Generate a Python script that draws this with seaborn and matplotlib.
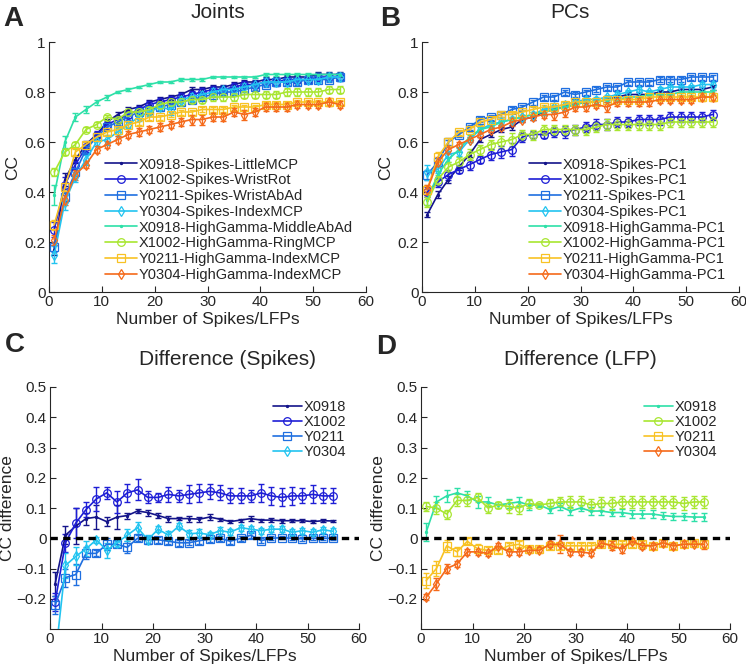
import numpy as np
import matplotlib
matplotlib.use("Agg")
import matplotlib.pyplot as plt
import seaborn as sns
from matplotlib.ticker import FuncFormatter

# ---------------- data ----------------
n_units = [1, 3, 5, 7, 9, 11, 13, 15, 17, 19, 21, 23, 25, 27, 29, 31, 33, 35, 37, 39, 41, 43, 45, 47, 49, 51, 53, 55]

joint_labels = ["X0918-Spikes-LittleMCP", "X1002-Spikes-WristRot", "Y0211-Spikes-WristAbAd",
                "Y0304-Spikes-IndexMCP", "X0918-HighGamma-MiddleAbAd", "X1002-HighGamma-RingMCP",
                "Y0211-HighGamma-IndexMCP", "Y0304-HighGamma-IndexMCP"]
pc_labels = ["X0918-Spikes-PC1", "X1002-Spikes-PC1", "Y0211-Spikes-PC1", "Y0304-Spikes-PC1",
             "X0918-HighGamma-PC1", "X1002-HighGamma-PC1", "Y0211-HighGamma-PC1", "Y0304-HighGamma-PC1"]
diff_labels = ["X0918", "X1002", "Y0211", "Y0304"]

# Panel A (Joints)
a_x0918_spk = [0.17, 0.45, 0.53, 0.59, 0.63, 0.68, 0.71, 0.73, 0.74, 0.76, 0.77, 0.78, 0.79, 0.81, 0.81, 0.82, 0.82, 0.83, 0.84, 0.84, 0.85, 0.85, 0.86, 0.86, 0.86, 0.87, 0.87, 0.87]
a_x1002_spk = [0.25, 0.43, 0.51, 0.58, 0.63, 0.67, 0.69, 0.71, 0.73, 0.75, 0.76, 0.77, 0.78, 0.79, 0.80, 0.81, 0.81, 0.82, 0.83, 0.83, 0.84, 0.84, 0.85, 0.85, 0.85, 0.86, 0.86, 0.86]
a_y0211_spk = [0.18, 0.38, 0.48, 0.57, 0.62, 0.66, 0.68, 0.70, 0.72, 0.73, 0.74, 0.75, 0.76, 0.77, 0.78, 0.79, 0.80, 0.80, 0.81, 0.82, 0.83, 0.84, 0.84, 0.84, 0.85, 0.85, 0.85, 0.86]
a_y0304_spk = [0.15, 0.36, 0.46, 0.53, 0.60, 0.61, 0.64, 0.67, 0.70, 0.72, 0.74, 0.73, 0.77, 0.78, 0.79, 0.80, 0.81, 0.81, 0.82, 0.83, 0.84, 0.84, 0.84, 0.85, 0.85, 0.85, 0.86, 0.86]
a_x0918_hg = [0.39, 0.60, 0.70, 0.73, 0.76, 0.78, 0.80, 0.81, 0.82, 0.83, 0.84, 0.84, 0.85, 0.85, 0.85, 0.86, 0.86, 0.86, 0.86, 0.86, 0.87, 0.87, 0.87, 0.87, 0.87, 0.87, 0.87, 0.87]
a_x1002_hg = [0.48, 0.56, 0.59, 0.65, 0.67, 0.70, 0.69, 0.72, 0.72, 0.73, 0.75, 0.76, 0.76, 0.77, 0.77, 0.78, 0.78, 0.78, 0.79, 0.79, 0.79, 0.79, 0.80, 0.80, 0.80, 0.80, 0.81, 0.81]
a_y0211_hg = [0.27, 0.42, 0.56, 0.59, 0.62, 0.64, 0.65, 0.67, 0.68, 0.70, 0.70, 0.71, 0.72, 0.72, 0.73, 0.73, 0.73, 0.74, 0.74, 0.74, 0.75, 0.75, 0.75, 0.76, 0.76, 0.76, 0.76, 0.76]
a_y0304_hg = [0.21, 0.37, 0.47, 0.51, 0.57, 0.59, 0.61, 0.63, 0.64, 0.65, 0.66, 0.67, 0.68, 0.69, 0.69, 0.70, 0.70, 0.72, 0.71, 0.72, 0.74, 0.74, 0.74, 0.75, 0.75, 0.75, 0.76, 0.75]

a_err_x0918_spk = [0.02, 0.025, 0.015, 0.015, 0.01, 0.01, 0.01, 0.01, 0.01, 0.01, 0.01, 0.01, 0.01, 0.01, 0.01, 0.01, 0.01, 0.01, 0.01, 0.01, 0.01, 0.01, 0.01, 0.01, 0.01, 0.01, 0.01, 0.01]
a_err_x1002_spk = [0.03, 0.03, 0.02, 0.02, 0.015, 0.015, 0.015, 0.015, 0.015, 0.015, 0.015, 0.015, 0.015, 0.015, 0.015, 0.015, 0.015, 0.015, 0.015, 0.015, 0.015, 0.015, 0.015, 0.015, 0.015, 0.015, 0.015, 0.015]
a_err_y0211_spk = [0.02, 0.02, 0.015, 0.015, 0.01, 0.01, 0.01, 0.01, 0.01, 0.01, 0.01, 0.01, 0.01, 0.01, 0.01, 0.01, 0.01, 0.01, 0.01, 0.01, 0.01, 0.01, 0.01, 0.01, 0.01, 0.01, 0.01, 0.01]
a_err_y0304_spk = [0.035, 0.03, 0.02, 0.02, 0.015, 0.02, 0.015, 0.015, 0.015, 0.015, 0.015, 0.02, 0.015, 0.015, 0.015, 0.015, 0.015, 0.015, 0.015, 0.015, 0.015, 0.015, 0.015, 0.015, 0.015, 0.015, 0.015, 0.015]
a_err_x0918_hg = [0.04, 0.025, 0.015, 0.015, 0.01, 0.01, 0.005, 0.005, 0.005, 0.005, 0.005, 0.005, 0.005, 0.005, 0.005, 0.005, 0.005, 0.005, 0.005, 0.005, 0.005, 0.005, 0.005, 0.005, 0.005, 0.005, 0.005, 0.005]
a_err_x1002_hg = [0.015, 0.01, 0.01, 0.01, 0.01, 0.01, 0.01, 0.01, 0.01, 0.01, 0.015, 0.015, 0.015, 0.015, 0.015, 0.015, 0.015, 0.015, 0.015, 0.015, 0.015, 0.015, 0.015, 0.015, 0.015, 0.015, 0.015, 0.015]
a_err_y0211_hg = [0.02, 0.015, 0.01, 0.01, 0.01, 0.01, 0.01, 0.01, 0.01, 0.01, 0.01, 0.01, 0.01, 0.01, 0.01, 0.01, 0.01, 0.01, 0.01, 0.01, 0.01, 0.01, 0.01, 0.01, 0.01, 0.01, 0.01, 0.01]
a_err_y0304_hg = [0.02, 0.02, 0.02, 0.015, 0.015, 0.015, 0.015, 0.015, 0.015, 0.015, 0.015, 0.015, 0.015, 0.02, 0.02, 0.015, 0.015, 0.015, 0.02, 0.015, 0.015, 0.015, 0.015, 0.015, 0.015, 0.015, 0.015, 0.015]

# Panel B (PCs)
b_x0918_spk = [0.31, 0.39, 0.45, 0.50, 0.55, 0.61, 0.63, 0.65, 0.66, 0.69, 0.70, 0.72, 0.73, 0.74, 0.75, 0.76, 0.76, 0.77, 0.78, 0.79, 0.79, 0.79, 0.80, 0.80, 0.81, 0.81, 0.81, 0.82]
b_x1002_spk = [0.40, 0.44, 0.47, 0.49, 0.51, 0.53, 0.55, 0.56, 0.57, 0.62, 0.63, 0.63, 0.64, 0.64, 0.65, 0.66, 0.67, 0.67, 0.68, 0.68, 0.69, 0.69, 0.69, 0.70, 0.70, 0.70, 0.70, 0.71]
b_y0211_spk = [0.47, 0.52, 0.60, 0.63, 0.66, 0.69, 0.70, 0.71, 0.73, 0.74, 0.76, 0.78, 0.78, 0.80, 0.79, 0.80, 0.81, 0.82, 0.82, 0.84, 0.84, 0.84, 0.85, 0.85, 0.85, 0.86, 0.86, 0.86]
b_y0304_spk = [0.48, 0.49, 0.55, 0.56, 0.61, 0.65, 0.67, 0.68, 0.69, 0.70, 0.71, 0.73, 0.74, 0.75, 0.76, 0.77, 0.77, 0.78, 0.79, 0.80, 0.81, 0.80, 0.81, 0.82, 0.82, 0.82, 0.83, 0.83]
b_x0918_hg = [0.37, 0.47, 0.53, 0.57, 0.62, 0.65, 0.66, 0.68, 0.69, 0.70, 0.71, 0.72, 0.73, 0.74, 0.75, 0.76, 0.76, 0.77, 0.77, 0.78, 0.78, 0.79, 0.79, 0.79, 0.80, 0.80, 0.80, 0.80]
b_x1002_hg = [0.36, 0.45, 0.50, 0.52, 0.55, 0.57, 0.59, 0.60, 0.61, 0.63, 0.63, 0.65, 0.65, 0.65, 0.65, 0.65, 0.66, 0.67, 0.67, 0.67, 0.67, 0.67, 0.67, 0.68, 0.68, 0.68, 0.68, 0.68]
b_y0211_hg = [0.41, 0.54, 0.60, 0.64, 0.65, 0.68, 0.69, 0.71, 0.71, 0.72, 0.73, 0.74, 0.74, 0.75, 0.76, 0.76, 0.76, 0.77, 0.77, 0.77, 0.77, 0.78, 0.78, 0.78, 0.78, 0.78, 0.78, 0.78]
b_y0304_hg = [0.41, 0.52, 0.57, 0.59, 0.61, 0.63, 0.65, 0.66, 0.68, 0.69, 0.70, 0.71, 0.71, 0.72, 0.74, 0.74, 0.75, 0.74, 0.76, 0.76, 0.76, 0.76, 0.77, 0.77, 0.77, 0.77, 0.78, 0.78]

b_err_x0918_spk = [0.01, 0.015, 0.015, 0.01, 0.01, 0.01, 0.01, 0.01, 0.01, 0.01, 0.01, 0.01, 0.01, 0.01, 0.01, 0.01, 0.01, 0.01, 0.01, 0.01, 0.01, 0.01, 0.01, 0.01, 0.01, 0.01, 0.01, 0.01]
b_err_x1002_spk = [0.02, 0.02, 0.02, 0.015, 0.02, 0.015, 0.02, 0.025, 0.025, 0.02, 0.015, 0.015, 0.02, 0.025, 0.02, 0.02, 0.02, 0.02, 0.02, 0.02, 0.02, 0.02, 0.02, 0.02, 0.02, 0.02, 0.02, 0.02]
b_err_y0211_spk = [0.02, 0.015, 0.01, 0.01, 0.01, 0.01, 0.01, 0.01, 0.01, 0.01, 0.01, 0.01, 0.01, 0.01, 0.01, 0.01, 0.01, 0.01, 0.01, 0.01, 0.01, 0.01, 0.01, 0.01, 0.01, 0.01, 0.01, 0.01]
b_err_y0304_spk = [0.03, 0.015, 0.015, 0.015, 0.01, 0.01, 0.01, 0.01, 0.01, 0.01, 0.01, 0.01, 0.01, 0.01, 0.01, 0.01, 0.01, 0.01, 0.01, 0.01, 0.01, 0.01, 0.01, 0.01, 0.01, 0.01, 0.01, 0.01]
b_err_x0918_hg = [0.02, 0.015, 0.01, 0.01, 0.01, 0.01, 0.01, 0.01, 0.01, 0.01, 0.01, 0.01, 0.01, 0.01, 0.01, 0.01, 0.01, 0.01, 0.01, 0.01, 0.01, 0.01, 0.01, 0.01, 0.01, 0.01, 0.01, 0.01]
b_err_x1002_hg = [0.02, 0.02, 0.02, 0.02, 0.02, 0.02, 0.02, 0.025, 0.025, 0.02, 0.02, 0.02, 0.02, 0.02, 0.02, 0.02, 0.02, 0.02, 0.02, 0.02, 0.02, 0.02, 0.02, 0.02, 0.02, 0.02, 0.02, 0.02]
b_err_y0211_hg = [0.02, 0.02, 0.015, 0.01, 0.01, 0.01, 0.01, 0.01, 0.01, 0.01, 0.01, 0.01, 0.01, 0.01, 0.01, 0.01, 0.01, 0.01, 0.01, 0.01, 0.01, 0.01, 0.01, 0.01, 0.01, 0.01, 0.01, 0.01]
b_err_y0304_hg = [0.02, 0.02, 0.015, 0.01, 0.01, 0.01, 0.01, 0.01, 0.015, 0.01, 0.01, 0.015, 0.02, 0.02, 0.015, 0.015, 0.015, 0.02, 0.015, 0.015, 0.015, 0.015, 0.015, 0.015, 0.015, 0.015, 0.015, 0.015]

# Panel C (Difference, Spikes)
c_x0918 = [-0.15, 0.01, 0.04, 0.065, 0.07, 0.055, 0.07, 0.075, 0.09, 0.085, 0.075, 0.065, 0.065, 0.065, 0.063, 0.07, 0.063, 0.055, 0.06, 0.065, 0.06, 0.06, 0.058, 0.058, 0.058, 0.055, 0.058, 0.057]
c_x1002 = [-0.21, -0.015, 0.05, 0.095, 0.13, 0.15, 0.12, 0.15, 0.16, 0.135, 0.135, 0.145, 0.14, 0.145, 0.15, 0.155, 0.15, 0.14, 0.14, 0.14, 0.15, 0.14, 0.135, 0.14, 0.14, 0.145, 0.14, 0.14]
c_y0211 = [-0.22, -0.13, -0.12, -0.05, -0.05, -0.02, -0.02, -0.03, 0.0, -0.005, -0.005, -0.01, -0.015, -0.015, -0.008, -0.003, 0.0, -0.01, 0.0, 0.01, -0.008, 0.0, 0.002, 0.0, -0.002, 0.0, 0.0, 0.0]
c_y0304 = [-0.40, -0.09, -0.06, -0.035, -0.005, -0.04, -0.015, 0.01, 0.035, -0.005, 0.03, 0.01, 0.04, 0.015, 0.017, 0.012, 0.025, 0.02, 0.035, 0.03, 0.025, 0.03, 0.03, 0.02, 0.025, 0.02, 0.028, 0.023]

c_err_x0918 = [0.04, 0.03, 0.06, 0.02, 0.04, 0.015, 0.04, 0.01, 0.007, 0.01, 0.008, 0.01, 0.005, 0.01, 0.008, 0.01, 0.005, 0.005, 0.005, 0.007, 0.005, 0.006, 0.006, 0.005, 0.004, 0.005, 0.005, 0.004]
c_err_x1002 = [0.03, 0.03, 0.05, 0.025, 0.04, 0.02, 0.035, 0.03, 0.035, 0.02, 0.015, 0.025, 0.02, 0.03, 0.03, 0.025, 0.025, 0.025, 0.025, 0.02, 0.03, 0.03, 0.03, 0.03, 0.025, 0.03, 0.025, 0.025]
c_err_y0211 = [0.03, 0.03, 0.035, 0.02, 0.01, 0.02, 0.01, 0.02, 0.01, 0.01, 0.01, 0.01, 0.01, 0.008, 0.01, 0.008, 0.008, 0.008, 0.008, 0.008, 0.008, 0.006, 0.006, 0.006, 0.006, 0.006, 0.006, 0.006]
c_err_y0304 = [0.05, 0.04, 0.03, 0.025, 0.01, 0.025, 0.015, 0.02, 0.02, 0.015, 0.01, 0.015, 0.01, 0.012, 0.012, 0.01, 0.012, 0.01, 0.01, 0.01, 0.01, 0.01, 0.01, 0.01, 0.01, 0.01, 0.01, 0.01]

# Panel D (Difference, LFP)
d_x0918 = [0.02, 0.12, 0.14, 0.15, 0.14, 0.12, 0.12, 0.11, 0.115, 0.12, 0.11, 0.11, 0.095, 0.105, 0.09, 0.10, 0.09, 0.09, 0.085, 0.085, 0.08, 0.08, 0.08, 0.075, 0.072, 0.072, 0.07, 0.07]
d_x1002 = [0.105, 0.10, 0.08, 0.125, 0.125, 0.135, 0.10, 0.11, 0.105, 0.10, 0.115, 0.11, 0.115, 0.12, 0.12, 0.12, 0.11, 0.115, 0.115, 0.12, 0.12, 0.12, 0.12, 0.12, 0.12, 0.115, 0.12, 0.12]
d_y0211 = [-0.14, -0.10, -0.025, -0.045, -0.01, -0.035, -0.04, -0.04, -0.025, -0.02, -0.035, -0.035, -0.025, -0.025, -0.025, -0.025, -0.025, -0.02, -0.02, -0.02, -0.02, -0.02, -0.025, -0.015, -0.025, -0.02, -0.015, -0.02]
d_y0304 = [-0.195, -0.15, -0.10, -0.085, -0.045, -0.045, -0.05, -0.025, -0.045, -0.045, -0.04, -0.04, -0.02, -0.02, -0.045, -0.045, -0.05, -0.015, -0.025, -0.035, -0.01, -0.025, -0.025, -0.015, -0.025, -0.02, -0.02, -0.02]

d_err_x0918 = [0.03, 0.02, 0.02, 0.015, 0.015, 0.02, 0.015, 0.01, 0.015, 0.015, 0.015, 0.007, 0.01, 0.012, 0.012, 0.01, 0.012, 0.012, 0.012, 0.012, 0.012, 0.012, 0.012, 0.012, 0.012, 0.012, 0.012, 0.012]
d_err_x1002 = [0.015, 0.02, 0.015, 0.02, 0.02, 0.015, 0.015, 0.01, 0.02, 0.02, 0.015, 0.005, 0.015, 0.015, 0.02, 0.02, 0.02, 0.02, 0.02, 0.02, 0.02, 0.02, 0.02, 0.02, 0.02, 0.02, 0.02, 0.02]
d_err_y0211 = [0.025, 0.025, 0.02, 0.015, 0.01, 0.015, 0.01, 0.01, 0.01, 0.01, 0.01, 0.01, 0.01, 0.01, 0.01, 0.01, 0.01, 0.01, 0.01, 0.01, 0.01, 0.01, 0.01, 0.01, 0.01, 0.01, 0.01, 0.01]
d_err_y0304 = [0.01, 0.02, 0.015, 0.01, 0.01, 0.01, 0.01, 0.01, 0.01, 0.01, 0.01, 0.01, 0.01, 0.03, 0.01, 0.01, 0.01, 0.01, 0.015, 0.015, 0.01, 0.01, 0.01, 0.01, 0.01, 0.01, 0.01, 0.015]

# ---------------- style ----------------
colors = ["#14148a", "#1e1ed6", "#1f6fe0", "#22c4f0", "#2de0a8", "#a8e630", "#f8c224", "#f56a1a"]
markers = [".", "o", "s", "d", ".", "o", "s", "d"]

sns.set_style("ticks", {"xtick.direction": "in", "ytick.direction": "in"})
plt.rcParams["font.family"] = ["Liberation Sans", "DejaVu Sans"]
plt.rcParams["axes.linewidth"] = 0.8

fig = plt.figure(figsize=(7.46, 6.69), dpi=100)
W, H = 746.0, 669.0


def make_ax(l, r, t, b):
    return fig.add_axes([l / W, 1 - b / H, (r - l) / W, (b - t) / H])


axA = make_ax(49, 366, 42, 292)
axB = make_ax(422, 739, 42, 292)
axC = make_ax(50, 359, 387, 629)
axD = make_ax(421, 730, 387, 629)


def draw(ax, series, errs, labels, cols, marks):
    for y, e, lab, c, m in zip(series, errs, labels, cols, marks):
        ms = 3 if m == "." else 5.5
        mfc = c if m == "." else "none"
        ax.errorbar(n_units, y, yerr=e, fmt="none", ecolor=c, elinewidth=1.0,
                    capsize=2.2, capthick=1.0, zorder=2)
        sns.lineplot(x=n_units, y=y, ax=ax, color=c, marker=m, ms=ms, mfc=mfc, mec=c,
                     mew=0.9, lw=1.2, label=lab, errorbar=None, zorder=3)


fmt = FuncFormatter(lambda v, p: ("%g" % round(v, 2)).replace("-", "\u2212"))

draw(axA, [a_x0918_spk, a_x1002_spk, a_y0211_spk, a_y0304_spk, a_x0918_hg, a_x1002_hg, a_y0211_hg, a_y0304_hg],
     [a_err_x0918_spk, a_err_x1002_spk, a_err_y0211_spk, a_err_y0304_spk, a_err_x0918_hg, a_err_x1002_hg, a_err_y0211_hg, a_err_y0304_hg],
     joint_labels, colors, markers)
draw(axB, [b_x0918_spk, b_x1002_spk, b_y0211_spk, b_y0304_spk, b_x0918_hg, b_x1002_hg, b_y0211_hg, b_y0304_hg],
     [b_err_x0918_spk, b_err_x1002_spk, b_err_y0211_spk, b_err_y0304_spk, b_err_x0918_hg, b_err_x1002_hg, b_err_y0211_hg, b_err_y0304_hg],
     pc_labels, colors, markers)
draw(axC, [c_x0918, c_x1002, c_y0211, c_y0304], [c_err_x0918, c_err_x1002, c_err_y0211, c_err_y0304],
     diff_labels, colors[:4], markers[:4])
draw(axD, [d_x0918, d_x1002, d_y0211, d_y0304], [d_err_x0918, d_err_x1002, d_err_y0211, d_err_y0304],
     diff_labels, colors[4:], markers[4:])

for ax in (axC, axD):
    ax.axhline(0, color="black", lw=2.4, ls=(0, (2.2, 1.6)), zorder=4)

for ax in (axA, axB):
    ax.set_ylim(0, 1)
    ax.set_yticks([0, 0.2, 0.4, 0.6, 0.8, 1.0])
    ax.set_ylabel("CC", fontsize=12.5, labelpad=3)
    ax.legend(loc="lower right", bbox_to_anchor=(0.99, 0.0), frameon=False, fontsize=10.5,
              handlelength=2.2, handletextpad=0.1, labelspacing=0.12, borderaxespad=0.3)
for ax in (axC, axD):
    ax.set_ylim(-0.3, 0.5)
    ax.set_yticks([-0.2, -0.1, 0, 0.1, 0.2, 0.3, 0.4, 0.5])
    ax.set_ylabel("CC difference", fontsize=12.5, labelpad=1)
    ax.legend(loc="upper right", bbox_to_anchor=(0.99, 0.99), frameon=False, fontsize=10.5,
              handlelength=2.0, handletextpad=0.1, labelspacing=0.08, borderaxespad=0.3)

for ax in (axA, axB, axC, axD):
    ax.set_xlim(0, 60)
    ax.set_xticks([0, 10, 20, 30, 40, 50, 60])
    ax.yaxis.set_major_formatter(fmt)
    ax.set_xlabel("Number of Spikes/LFPs", fontsize=12.5, labelpad=2)
    ax.tick_params(labelsize=11, length=4, width=0.8, pad=2.5)
    sns.despine(ax=ax)

# titles
axA.text(0.533, 1.0 + 24 / 250, "Joints", transform=axA.transAxes, ha="center", va="baseline", fontsize=15)
axB.text(0.467, 1.0 + 24 / 250, "PCs", transform=axB.transAxes, ha="center", va="baseline", fontsize=15)
axC.text(0.576, 1.0 + 22 / 242, "Difference (Spikes)", transform=axC.transAxes, ha="center", va="baseline", fontsize=15)
axD.text(0.515, 1.0 + 22 / 242, "Difference (LFP)", transform=axD.transAxes, ha="center", va="baseline", fontsize=15)

# panel letters
for lab, x, y in [("A", 3, 26), ("B", 380, 26), ("C", 5, 352), ("D", 376, 354)]:
    fig.text(x / W, 1 - y / H, lab, fontsize=20, fontweight="bold", ha="left", va="baseline")

fig.savefig("out.png", dpi=100)
